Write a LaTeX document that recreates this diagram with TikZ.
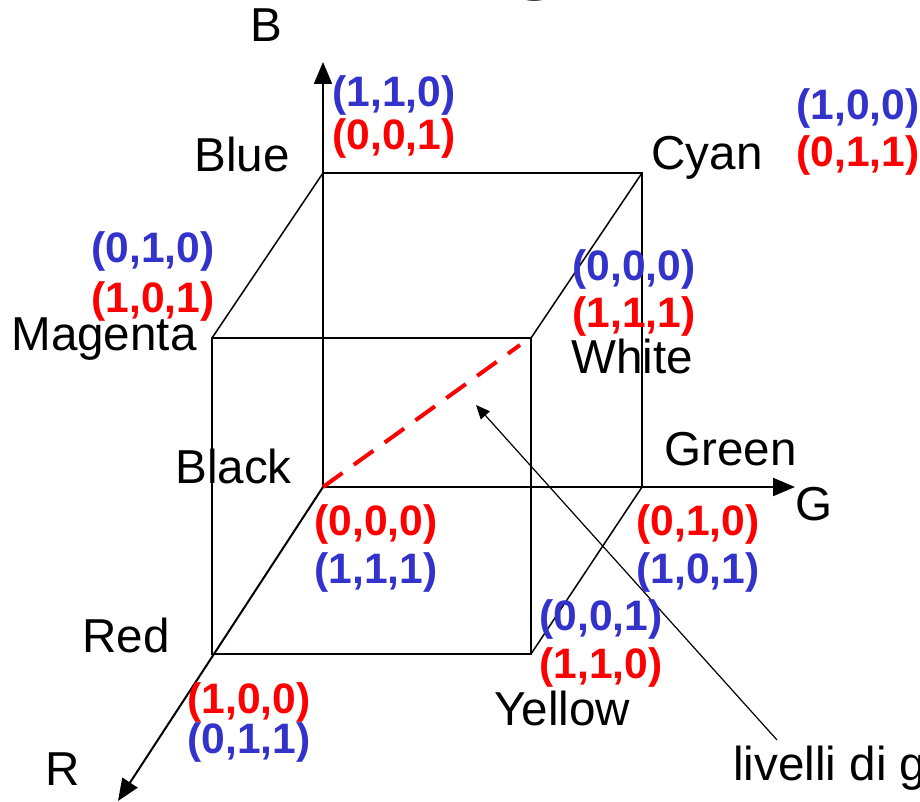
\documentclass[tikz,border=0pt]{standalone}
\usepackage{fontspec}
\setmainfont{Liberation Sans}
\usetikzlibrary{arrows.meta}
\definecolor{cmyblue}{RGB}{51,51,204}
\definecolor{rgbred}{RGB}{255,0,0}

\begin{document}
\begin{tikzpicture}[x=0.5pt, y=-0.5pt,
  label/.style={font=\fontsize{23.8}{26}\selectfont, inner sep=0pt, anchor=base west},
  rgbval/.style={font=\fontsize{21.3}{24}\selectfont\bfseries, text=rgbred, inner sep=0pt, anchor=base west},
  cmyval/.style={font=\fontsize{21.3}{24}\selectfont\bfseries, text=cmyblue, inner sep=0pt, anchor=base west},
  cubeline/.style={line width=0.75pt},
  axis/.style={line width=1pt, -{Triangle[length=11pt,width=9pt]}},
  pointer/.style={line width=0.6pt, -{Triangle[length=7pt,width=6pt]}},
  greyline/.style={rgbred, line width=2pt, dash pattern=on 12pt off 7pt},
]
\useasboundingbox (0,0) rectangle (920,802);
\clip (0,0) rectangle (920,802);
% --- title (cut off) ---
\node[font=\fontsize{40}{44}\selectfont\bfseries, inner sep=0pt, anchor=base west] (title) at (445,1) {RGB};
% --- cube corners ---
\coordinate (blk) at (323,487);
\coordinate (blu) at (323,173);
\coordinate (cya) at (642,173);
\coordinate (grn) at (642,487);
\coordinate (mag) at (212,338);
\coordinate (wht) at (531,338);
\coordinate (yel) at (531,654);
\coordinate (red) at (212,654);
\coordinate (btip) at (323,62);
\coordinate (gtip) at (795,487);
\coordinate (rtip) at (118,801);
% --- axes ---
\draw[axis] (blk) -- (btip);
\draw[axis] (blk) -- (gtip);
\draw[axis] (blk) -- (rtip);
% --- cube edges ---
\draw[cubeline] (blu) -- (cya) -- (grn);
\draw[cubeline] (mag) -- (wht) -- (yel) -- (red) -- cycle;
\draw[cubeline] (blu) -- (mag);
\draw[cubeline] (cya) -- (wht);
\draw[cubeline] (grn) -- (yel);
% --- grey levels ---
\coordinate (dend) at (520,345);
\draw[greyline] (blk) -- (dend);
\coordinate (lvlfrom) at (777,740);
\coordinate (lvltip) at (476,405);
\draw[pointer] (lvlfrom) -- (lvltip);
\node[label] (lvl) at (733,780) {livelli di grigio};
% --- axis names ---
\node[label] (bname) at (250,42) {B};
\node[label] (gname) at (795,520) {G};
\node[label] (rname) at (45,785) {R};
% --- corner names ---
\node[label] (nblu) at (194,172) {Blue};
\node[label] (ncya) at (651,170) {Cyan};
\node[label] (nmag) at (11,350) {Magenta};
\node[label] (nwht) at (571,373) {White};
\node[label] (nblk) at (175,483) {Black};
\node[label] (ngrn) at (664,465) {Green};
\node[label] (nred) at (82,652) {Red};
\node[label] (nyel) at (494,725) {Yellow};
% --- values ---
\node[cmyval] (vblu1) at (332,107) {(1,1,0)};
\node[rgbval] (vblu2) at (332,150) {(0,0,1)};
\node[cmyval] (vcya1) at (796,120) {(1,0,0)};
\node[rgbval] (vcya2) at (796,167) {(0,1,1)};
\node[cmyval] (vmag1) at (91,263) {(0,1,0)};
\node[rgbval] (vmag2) at (91,312) {(1,0,1)};
\node[cmyval] (vwht1) at (572,280) {(0,0,0)};
\node[rgbval] (vwht2) at (572,327) {(1,1,1)};
\node[rgbval] (vblk1) at (314,535) {(0,0,0)};
\node[cmyval] (vblk2) at (314,583) {(1,1,1)};
\node[rgbval] (vgrn1) at (636,535) {(0,1,0)};
\node[cmyval] (vgrn2) at (636,583) {(1,0,1)};
\node[cmyval] (vyel1) at (539,630) {(0,0,1)};
\node[rgbval] (vyel2) at (539,678) {(1,1,0)};
\node[rgbval] (vred1) at (187,713) {(1,0,0)};
\node[cmyval] (vred2) at (187,753) {(0,1,1)};
\end{tikzpicture}
\end{document}
